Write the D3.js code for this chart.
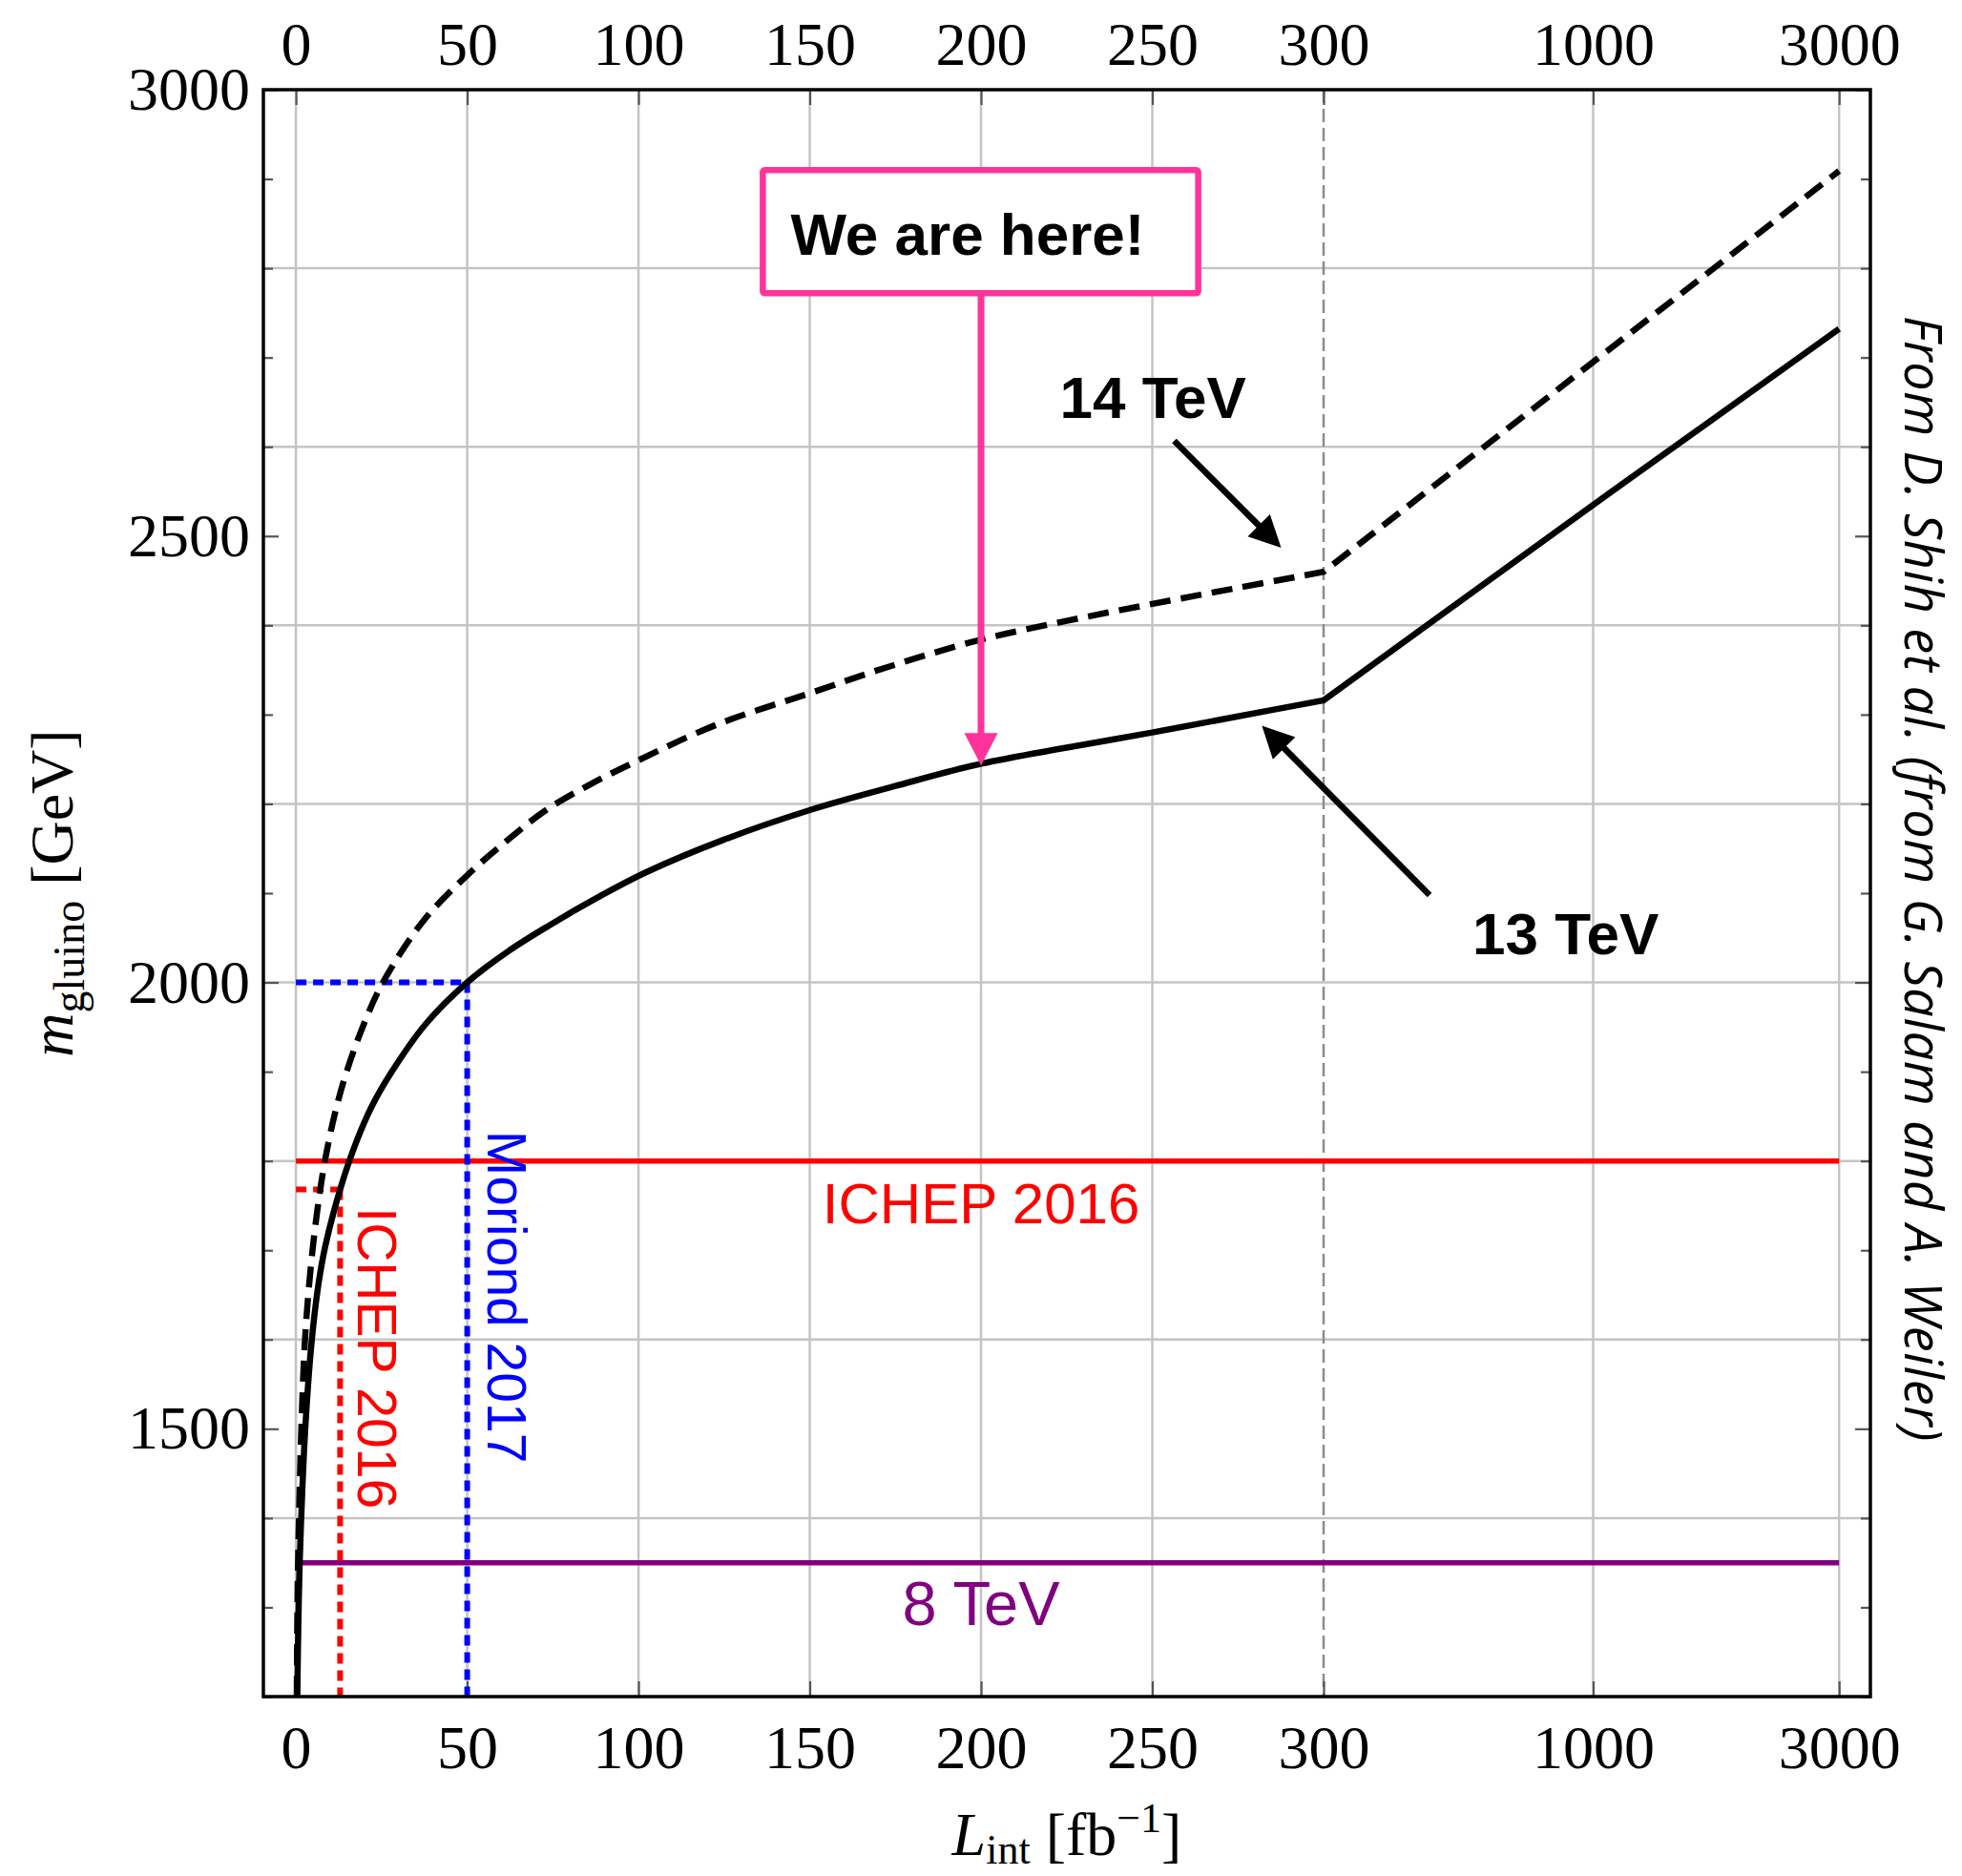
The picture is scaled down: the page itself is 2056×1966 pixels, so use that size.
<!DOCTYPE html>
<html><head><meta charset="utf-8">
<script src="https://cdn.jsdelivr.net/npm/d3@7"></script>
<style>body{margin:0;background:#fff}</style>
</head><body>
<svg id="chart" width="2056" height="1966"></svg>
<script>
// ---------------- data ----------------
const xTicksLinear = [0, 50, 100, 150, 200, 250, 300];
const xTicksLog = [1000, 3000];
const xGridLinear = [0, 50, 100, 150, 200, 250];
const xGridLog = [1000, 3000];
const xDashedGrid = [300];
const yTickLabels = [1500, 2000, 2500, 3000];
const yMinorTicks = [1200, 1300, 1400, 1600, 1700, 1800, 1900, 2100, 2200, 2300, 2400, 2600, 2700, 2800, 2900];
const yGrid = [1400, 1600, 1800, 2000, 2200, 2400, 2600, 2800];

// 13 TeV reach (solid)
const lumi13 = [0.4, 0.7, 1.1, 1.9, 2.8, 4.4, 6.5, 8.6, 12.9, 17.5, 22, 28, 37.8, 50, 62, 74, 88, 102, 125, 150, 175, 200, 225, 250, 275, 300, 1000, 3000];
const mass13 = [1200, 1280, 1350, 1435, 1505, 1590, 1660, 1705, 1768, 1820, 1860, 1900, 1953, 2000, 2035, 2064, 2095, 2123, 2160, 2193, 2220, 2245, 2263, 2280, 2298, 2316, 2535, 2732];
// 14 TeV reach (dashed)
const lumi14 = [0.25, 0.5, 0.9, 1.5, 2.5, 3.6, 4.9, 6.5, 8.6, 11.5, 14.8, 20, 25.4, 37, 50, 62, 73, 86, 99, 123, 150, 175, 200, 225, 250, 275, 300, 1000, 3000];
const mass14 = [1200, 1320, 1400, 1490, 1590, 1650, 1702, 1752, 1803, 1855, 1900, 1955, 2000, 2068, 2120, 2160, 2193, 2222, 2247, 2289, 2324, 2356, 2384, 2405, 2424, 2442, 2460, 2695, 2909];

// limits
const limitNames = ["ICHEP 2016", "8 TeV"];
const limitMass = [1800, 1350];
const limitColors = ["#ff0000", "#800080"];
const limitRange = [0, 3000];
// dataset markers (luminosity, mass reached)
const markerNames = ["ICHEP 2016", "Moriond 2017"];
const markerLumi = [12.9, 50];
const markerMass = [1768, 2000];
const markerColors = ["#ff0000", "#0000ff"];

// ---------------- layout ----------------
const svg = d3.select("#chart");
const L = 276, R = 1960, T = 94, B = 1778;
const serif = '"Liberation Serif","Times New Roman",Times,serif';
const sans = '"Liberation Sans",Arial,Helvetica,sans-serif';

const xLin = d3.scaleLinear().domain([-9.5, 300]).range([L, 1387]);
const xLog = d3.scaleLog().domain([300, 3450]).range([1387, R]);
const x = v => (v <= 300 ? xLin(v) : xLog(v));
const y = d3.scaleLinear().domain([1200, 3000]).range([B, T]);

// grid
const grid = svg.append("g");
xGridLinear.concat(xGridLog).forEach(v => {
  grid.append("line").attr("x1", x(v)).attr("x2", x(v)).attr("y1", T).attr("y2", B)
    .attr("stroke", "#c4c4c4").attr("stroke-width", 2.5);
});
yGrid.forEach(v => {
  grid.append("line").attr("x1", L).attr("x2", R).attr("y1", y(v)).attr("y2", y(v))
    .attr("stroke", "#c4c4c4").attr("stroke-width", 2.5);
});
xDashedGrid.forEach(v => {
  grid.append("line").attr("x1", x(v)).attr("x2", x(v)).attr("y1", T).attr("y2", B)
    .attr("stroke", "#8c8c8c").attr("stroke-width", 2.5).attr("stroke-dasharray", "14,6");
});

// axes
function styleAxis(g) {
  g.select(".domain").remove();
  g.selectAll(".tick line").attr("stroke", "#555").attr("stroke-width", 2.2);
  g.selectAll(".tick text").attr("font-family", serif).attr("font-size", 64).attr("fill", "#000");
}
const fmt = d3.format("d");
svg.append("g").attr("transform", `translate(0,${B})`)
  .call(d3.axisBottom(xLin).tickValues(xTicksLinear).tickFormat(fmt).tickSizeInner(-16).tickSizeOuter(0).tickPadding(30)).call(styleAxis);
svg.append("g").attr("transform", `translate(0,${B})`)
  .call(d3.axisBottom(xLog).tickValues(xTicksLog).tickFormat(fmt).tickSizeInner(-16).tickSizeOuter(0).tickPadding(30)).call(styleAxis);
svg.append("g").attr("transform", `translate(0,${T})`)
  .call(d3.axisTop(xLin).tickValues(xTicksLinear).tickFormat(fmt).tickSizeInner(-16).tickSizeOuter(0).tickPadding(26)).call(styleAxis);
svg.append("g").attr("transform", `translate(0,${T})`)
  .call(d3.axisTop(xLog).tickValues(xTicksLog).tickFormat(fmt).tickSizeInner(-16).tickSizeOuter(0).tickPadding(26)).call(styleAxis);
svg.append("g").attr("transform", `translate(${L},0)`)
  .call(d3.axisLeft(y).tickValues(yTickLabels).tickFormat(fmt).tickSizeInner(-16).tickSizeOuter(0).tickPadding(14)).call(styleAxis);
svg.append("g").attr("transform", `translate(${L},0)`)
  .call(d3.axisLeft(y).tickValues(yMinorTicks).tickFormat("").tickSizeInner(-10).tickSizeOuter(0)).call(styleAxis);
svg.append("g").attr("transform", `translate(${R},0)`)
  .call(d3.axisRight(y).tickValues(yTickLabels).tickFormat("").tickSizeInner(-16).tickSizeOuter(0)).call(styleAxis);
svg.append("g").attr("transform", `translate(${R},0)`)
  .call(d3.axisRight(y).tickValues(yMinorTicks).tickFormat("").tickSizeInner(-10).tickSizeOuter(0)).call(styleAxis);

// horizontal limit lines
const lim = svg.append("g");
limitMass.forEach((m, i) => {
  lim.append("line").attr("x1", x(limitRange[0])).attr("x2", x(limitRange[1]))
    .attr("y1", y(m)).attr("y2", y(m)).attr("stroke", limitColors[i]).attr("stroke-width", 5.5);
});
// dotted markers
markerLumi.forEach((l, i) => {
  const c = markerColors[i];
  lim.append("line").attr("x1", x(0)).attr("x2", x(l)).attr("y1", y(markerMass[i])).attr("y2", y(markerMass[i]))
    .attr("stroke", c).attr("stroke-width", 6).attr("stroke-dasharray", "11,7");
  lim.append("line").attr("x1", x(l)).attr("x2", x(l)).attr("y1", y(markerMass[i])).attr("y2", B)
    .attr("stroke", c).attr("stroke-width", 6).attr("stroke-dasharray", "11,7");
});

// curves
function curvePath(lumi, mass) {
  const pts = lumi.map((l, i) => [x(l), y(mass[i])]);
  const low = pts.filter((p, i) => lumi[i] <= 300);
  const high = pts.filter((p, i) => lumi[i] >= 300);
  const dLow = d3.line().curve(d3.curveCatmullRom.alpha(0.5))(low);
  const dHigh = d3.line()(high);
  return dLow + dHigh.replace(/^M/, "L");
}
svg.append("path").attr("d", curvePath(lumi14, mass14)).attr("fill", "none")
  .attr("stroke", "#000").attr("stroke-width", 6.5).attr("stroke-dasharray", "22,11");
svg.append("path").attr("d", curvePath(lumi13, mass13)).attr("fill", "none")
  .attr("stroke", "#000").attr("stroke-width", 6.5);

// frame
svg.append("rect").attr("x", L).attr("y", T).attr("width", R - L).attr("height", B - T)
  .attr("fill", "none").attr("stroke", "#000").attr("stroke-width", 3.5);

// arrows helper
function arrow(g, x1, y1, x2, y2, color, width, headLen, headW) {
  const dx = x2 - x1, dy = y2 - y1, len = Math.hypot(dx, dy), ux = dx / len, uy = dy / len;
  const bx = x2 - ux * headLen, by = y2 - uy * headLen;
  g.append("line").attr("x1", x1).attr("y1", y1).attr("x2", bx + ux * 2).attr("y2", by + uy * 2)
    .attr("stroke", color).attr("stroke-width", width);
  g.append("path").attr("d", `M${x2},${y2}L${bx - uy * headW / 2},${by + ux * headW / 2}L${bx + uy * headW / 2},${by - ux * headW / 2}Z`)
    .attr("fill", color);
}

const ann = svg.append("g");
// limit labels
const limitLabelLumi = [200, 200];
const limitLabelMass = [1730, 1280];
const limitLabelSize = [60, 65];
limitNames.forEach((n, i) => {
  ann.append("text").attr("x", x(limitLabelLumi[i])).attr("y", y(limitLabelMass[i]))
    .attr("text-anchor", "middle").attr("font-family", sans).attr("font-size", limitLabelSize[i])
    .attr("fill", limitColors[i]).text(n);
});
// vertical marker labels
const markerLabelLumi = [18.1, 56];
const markerLabelMass = [1748, 1834];
markerNames.forEach((n, i) => {
  ann.append("text").attr("transform", `translate(${x(markerLabelLumi[i])},${y(markerLabelMass[i])}) rotate(90)`)
    .attr("font-family", sans).attr("font-size", 57).attr("fill", markerColors[i]).text(n);
});

// We are here box
const boxLumi = [136.3, 263.4], boxMass = [2772, 2910];
ann.append("rect").attr("x", x(boxLumi[0])).attr("y", y(boxMass[1]))
  .attr("width", x(boxLumi[1]) - x(boxLumi[0])).attr("height", y(boxMass[0]) - y(boxMass[1]))
  .attr("fill", "#fff").attr("stroke", "#ff3399").attr("stroke-width", 6.5).attr("rx", 2);
ann.append("text").attr("x", x(144.4)).attr("y", y(2815)).attr("font-family", sans)
  .attr("font-weight", "bold").attr("font-size", 62).attr("fill", "#000").text("We are here!");
arrow(ann, x(200), y(2772), x(200), y(2243), "#ff3399", 7, 34, 35);

// energy labels
ann.append("text").attr("x", x(223)).attr("y", y(2632)).attr("font-family", sans)
  .attr("font-weight", "bold").attr("font-size", 62).text("14 TeV");
arrow(ann, x(256.4), y(2606.6), x(287.6), y(2486.9), "#000", 6.5, 33, 33);
ann.append("text").attr("x", x(583.6)).attr("y", y(2031.5)).attr("font-family", sans)
  .attr("font-weight", "bold").attr("font-size", 62).text("13 TeV");
arrow(ann, x(481.6), y(2097.8), x(282), y(2287.5), "#000", 6.5, 33, 33);

// axis titles
const yt = svg.append("text").attr("transform", `translate(76,${(T + B) / 2}) rotate(-90)`)
  .attr("text-anchor", "middle").attr("font-family", serif).attr("font-size", 64);
yt.append("tspan").attr("font-style", "italic").text("m");
yt.append("tspan").attr("font-size", 46).attr("dy", 12).text("gluino");
yt.append("tspan").attr("dy", -12).text("\u00A0[GeV]");

const xt = svg.append("text").attr("x", (L + R) / 2).attr("y", 1944)
  .attr("text-anchor", "middle").attr("font-family", serif).attr("font-size", 64);
xt.append("tspan").attr("font-style", "italic").text("L");
xt.append("tspan").attr("font-size", 44).attr("dy", 9).text("int");
xt.append("tspan").attr("dy", -9).text("\u00A0[fb");
xt.append("tspan").attr("font-size", 44).attr("dy", -24).text("\u22121");
xt.append("tspan").attr("dy", 24).text("]");

// credit
svg.append("text").attr("transform", `translate(1996,921) rotate(90)`).attr("text-anchor", "middle")
  .attr("font-family", '"Open Sans",sans-serif').attr("font-style", "italic").attr("font-size", 54)
  .attr("letter-spacing", 0.6).attr("fill", "#000").text("From D. Shih et al. (from G. Salam and A. Weiler)");
</script>
</body></html>
